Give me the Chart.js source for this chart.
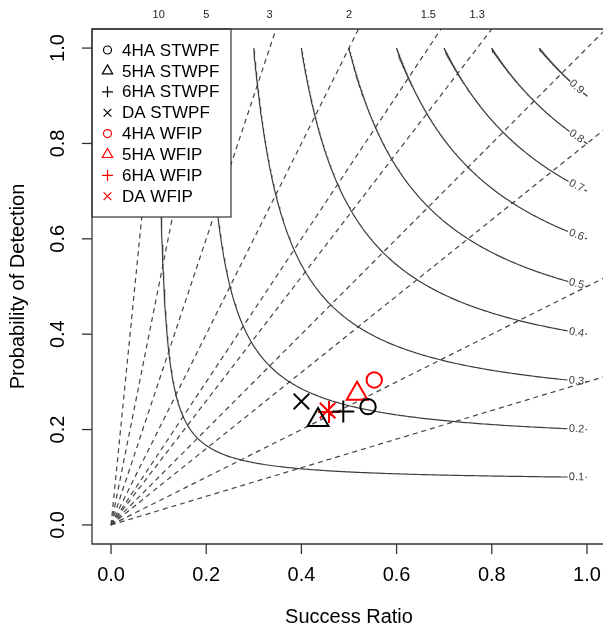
<!DOCTYPE html>
<html>
<head>
<meta charset="utf-8">
<script src="https://cdn.jsdelivr.net/npm/chart.js@4.4.0/dist/chart.umd.min.js"></script>
<style>
  html, body { margin: 0; padding: 0; background: #fff; overflow: hidden; }
  body { width: 603px; height: 631px; }
  #wrap { width: 620px; height: 631px; }
  #wrap canvas { display: block; }
</style>
</head>
<body>
<div id="wrap"><canvas id="perf" width="620" height="631"></canvas></div>
<script>
// forecast scores: success ratio (x) and probability of detection (y)
const seriesNames = ['4HA STWPF', '5HA STWPF', '6HA STWPF', 'DA STWPF',
                     '4HA WFIP', '5HA WFIP', '6HA WFIP', 'DA WFIP'];
const successRatio  = [0.540, 0.435, 0.488, 0.400, 0.553, 0.517, 0.458, 0.455];
const probDetection = [0.248, 0.220, 0.238, 0.259, 0.304, 0.275, 0.237, 0.240];
const seriesColors  = ['#000000', '#000000', '#000000', '#000000',
                       '#ff0000', '#ff0000', '#ff0000', '#ff0000'];
const seriesShapes  = ['circle', 'triangle', 'cross', 'crossRot',
                       'circle', 'triangle', 'cross', 'crossRot'];

// background isolines
const csiLevels  = [0.1, 0.2, 0.3, 0.4, 0.5, 0.6, 0.7, 0.8, 0.9];
const biasLevels = [0.3, 0.5, 0.8, 1, 1.3, 1.5, 2, 3, 5, 10];
const axisTicks  = [0, 0.2, 0.4, 0.6, 0.8, 1.0];

const FONT = '"Liberation Sans", Arial, Helvetica, sans-serif';
const LO = -0.04, HI = 1.04;
const labelSR = 0.978;

const markerSize = { circle: 7.7, triangle: 12, cross: 11, crossRot: 11 };
const keySize = { circle: 4, triangle: 6, cross: 5.5, crossRot: 5.5 };

// POD along a CSI isoline
function podAt(c, sr) {
  return 1 / (1 / c + 1 - 1 / sr);
}

function csiAngle(c) {
  const p = podAt(c, labelSR);
  return Math.atan((p * p) / (labelSR * labelSR));
}

function csiPoints(c) {
  const pts = [];
  const half = 0.019 * Math.cos(csiAngle(c));
  const n = 240;
  let gapDone = false;
  for (let i = 0; i <= n; i++) {
    const u = i / n;
    const sr = c + (1 - c) * u * u;
    if (sr > labelSR - half && sr < labelSR + half) {
      if (!gapDone) {
        pts.push({ x: labelSR - half, y: podAt(c, labelSR - half) });
        pts.push({ x: labelSR, y: null });
        pts.push({ x: labelSR + half, y: podAt(c, labelSR + half) });
        gapDone = true;
      }
      continue;
    }
    pts.push({ x: sr, y: Math.min(1, podAt(c, sr)) });
  }
  return pts;
}

function biasPoints(b) {
  const end = b >= 1 ? { x: HI / b, y: HI } : { x: HI, y: HI * b };
  return [{ x: 0, y: 0 }, end];
}

const datasets = [];

seriesNames.forEach((name, i) => {
  datasets.push({
    type: 'scatter',
    label: name,
    data: [{ x: successRatio[i], y: probDetection[i] }],
    pointStyle: seriesShapes[i],
    pointRadius: markerSize[seriesShapes[i]],
    borderColor: seriesColors[i],
    backgroundColor: 'rgba(0,0,0,0)',
    borderWidth: 2,
    order: 0,
  });
});

csiLevels.forEach((c) => {
  datasets.push({
    type: 'line',
    label: 'csi ' + c,
    data: csiPoints(c),
    borderColor: '#3c3c3c',
    borderWidth: 1.2,
    pointRadius: 0,
    spanGaps: false,
    tension: 0,
    order: 1,
  });
});

biasLevels.forEach((b) => {
  datasets.push({
    type: 'line',
    label: 'bias ' + b,
    data: biasPoints(b),
    borderColor: '#444444',
    borderWidth: 1.2,
    borderDash: [5, 4],
    pointRadius: 0,
    order: 2,
  });
});

const frame = {
  id: 'frame',
  afterDatasetsDraw(chart) {
    const { ctx, scales: { x, y } } = chart;

    // contour labels, rotated along the curve
    ctx.save();
    ctx.fillStyle = '#3c3c3c';
    ctx.font = '11px ' + FONT;
    ctx.textAlign = 'center';
    ctx.textBaseline = 'middle';
    csiLevels.forEach((c) => {
      const px = x.getPixelForValue(labelSR);
      const py = y.getPixelForValue(podAt(c, labelSR));
      ctx.save();
      ctx.translate(px, py);
      ctx.rotate(csiAngle(c));
      ctx.fillText(String(c), 0, 0);
      ctx.restore();
    });
    ctx.restore();

    // legend in the top left corner
    const lx = chart.chartArea.left, ly = chart.chartArea.top;
    ctx.save();
    ctx.fillStyle = '#fff';
    ctx.fillRect(lx, ly, 139, 188);
    ctx.strokeStyle = '#333';
    ctx.lineWidth = 1.2;
    ctx.strokeRect(lx, ly, 139, 188);
    ctx.font = '17px ' + FONT;
    ctx.textBaseline = 'middle';
    ctx.textAlign = 'left';
    seriesNames.forEach((name, i) => {
      const ry = ly + 21 + i * 20.9;
      ctx.strokeStyle = seriesColors[i];
      ctx.fillStyle = 'rgba(0,0,0,0)';
      ctx.lineWidth = 1.2;
      Chart.helpers.drawPoint(ctx, {
        pointStyle: seriesShapes[i],
        radius: keySize[seriesShapes[i]],
        rotation: 0,
        borderWidth: 1.2,
      }, lx + 15.5, ry);
      ctx.fillStyle = '#000';
      ctx.fillText(name, lx + 30, ry + 1);
    });
    ctx.restore();
  },
  afterDraw(chart) {
    const { ctx, chartArea: a, scales: { x, y } } = chart;
    const edge = chart.width;
    ctx.save();
    ctx.strokeStyle = '#333';
    ctx.lineWidth = 1.3;
    // plot frame; its right side lies past the visible page
    ctx.beginPath();
    ctx.moveTo(edge, a.top);
    ctx.lineTo(a.left, a.top);
    ctx.lineTo(a.left, a.bottom);
    ctx.lineTo(edge, a.bottom);
    ctx.stroke();

    ctx.fillStyle = '#000';
    ctx.font = '20px ' + FONT;
    ctx.textAlign = 'center';
    ctx.textBaseline = 'middle';
    axisTicks.forEach((t) => {
      const px = x.getPixelForValue(t);
      ctx.beginPath();
      ctx.moveTo(px, a.bottom);
      ctx.lineTo(px, a.bottom + 10);
      ctx.stroke();
      ctx.fillText(t.toFixed(1), px, a.bottom + 31);

      const py = y.getPixelForValue(t);
      ctx.beginPath();
      ctx.moveTo(a.left, py);
      ctx.lineTo(a.left - 10, py);
      ctx.stroke();
      ctx.save();
      ctx.translate(a.left - 34, py);
      ctx.rotate(-Math.PI / 2);
      ctx.fillText(t.toFixed(1), 0, 0);
      ctx.restore();
    });

    ctx.fillText('Success Ratio', (a.left + a.right) / 2, a.bottom + 73);
    ctx.save();
    ctx.translate(a.left - 74, (a.top + a.bottom) / 2);
    ctx.rotate(-Math.PI / 2);
    ctx.fillText('Probability of Detection', 0, 0);
    ctx.restore();

    // frequency bias labels along the top
    ctx.font = '11px ' + FONT;
    ctx.fillStyle = '#222';
    biasLevels.filter((b) => b > 1).forEach((b) => {
      ctx.fillText(String(b), x.getPixelForValue(1 / b), a.top - 14);
    });
    ctx.restore();
  },
};

new Chart(document.getElementById('perf'), {
  data: { datasets },
  options: {
    responsive: false,
    animation: false,
    layout: { padding: { left: 92, top: 29, right: 13, bottom: 87 } },
    scales: {
      x: { type: 'linear', min: LO, max: HI, display: false },
      y: { type: 'linear', min: LO, max: HI, display: false },
    },
    plugins: { legend: { display: false }, tooltip: { enabled: false } },
  },
  plugins: [frame],
});
</script>
</body>
</html>
